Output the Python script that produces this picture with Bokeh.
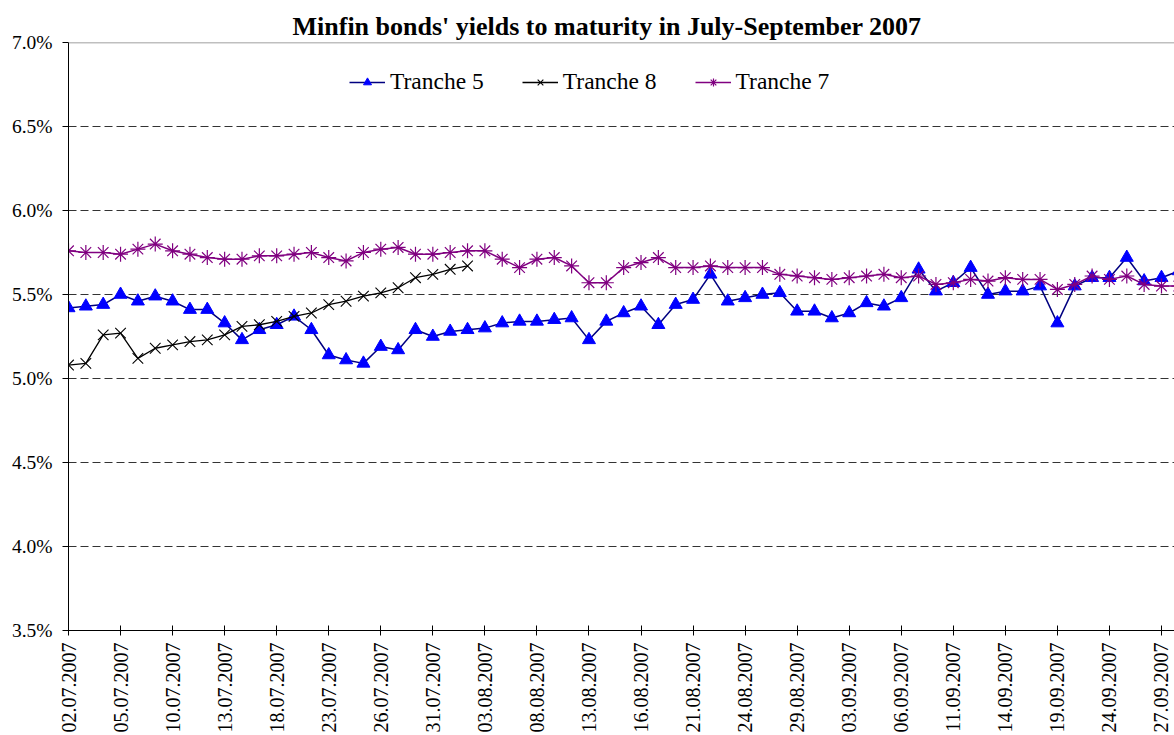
import math
from bokeh.plotting import figure
from bokeh.models import (Range1d, FixedTicker, PrintfTickFormatter, Legend,
                          LegendItem, Span)
from bokeh.embed import file_html
from bokeh.resources import INLINE

# ---- data -------------------------------------------------------------
dates = [
    "02.07.2007", "03.07.2007", "04.07.2007", "05.07.2007", "06.07.2007",
    "09.07.2007", "10.07.2007", "11.07.2007", "12.07.2007", "13.07.2007",
    "16.07.2007", "17.07.2007", "18.07.2007", "19.07.2007", "20.07.2007",
    "23.07.2007", "24.07.2007", "25.07.2007", "26.07.2007", "27.07.2007",
    "30.07.2007", "31.07.2007", "01.08.2007", "02.08.2007", "03.08.2007",
    "06.08.2007", "07.08.2007", "08.08.2007", "09.08.2007", "10.08.2007",
    "13.08.2007", "14.08.2007", "15.08.2007", "16.08.2007", "17.08.2007",
    "20.08.2007", "21.08.2007", "22.08.2007", "23.08.2007", "24.08.2007",
    "27.08.2007", "28.08.2007", "29.08.2007", "30.08.2007", "31.08.2007",
    "03.09.2007", "04.09.2007", "05.09.2007", "06.09.2007", "07.09.2007",
    "10.09.2007", "11.09.2007", "12.09.2007", "13.09.2007", "14.09.2007",
    "17.09.2007", "18.09.2007", "19.09.2007", "20.09.2007", "21.09.2007",
    "24.09.2007", "25.09.2007", "26.09.2007", "27.09.2007", "28.09.2007",
]

tranche5 = [
    5.42, 5.43, 5.44, 5.50, 5.46, 5.49, 5.46, 5.41, 5.41, 5.33,
    5.23, 5.29, 5.32, 5.37, 5.29, 5.14, 5.11, 5.09, 5.19, 5.17,
    5.29, 5.25, 5.28, 5.29, 5.30, 5.33, 5.34, 5.34, 5.35, 5.36,
    5.23, 5.34, 5.39, 5.43, 5.32, 5.44, 5.47, 5.62, 5.46, 5.48,
    5.50, 5.51, 5.40, 5.40, 5.36, 5.39, 5.45, 5.43, 5.48, 5.65,
    5.52, 5.57, 5.66, 5.50, 5.52, 5.52, 5.55, 5.33, 5.55, 5.60,
    5.60, 5.72, 5.58, 5.60, 5.64,
]

tranche8 = [
    5.08, 5.09, 5.26, 5.27, 5.12, 5.18, 5.20, 5.22, 5.23, 5.26,
    5.31, 5.32, 5.34, 5.37, 5.39, 5.44, 5.46, 5.49, 5.51, 5.54,
    5.60, 5.62, 5.65, 5.67,
]

tranche7 = [
    5.76, 5.75, 5.75, 5.74, 5.77, 5.80, 5.76, 5.74, 5.72, 5.71,
    5.71, 5.73, 5.73, 5.74, 5.75, 5.72, 5.70, 5.75, 5.77, 5.78,
    5.74, 5.74, 5.75, 5.76, 5.76, 5.71, 5.66, 5.71, 5.72, 5.67,
    5.57, 5.57, 5.66, 5.69, 5.72, 5.66, 5.66, 5.67, 5.66, 5.66,
    5.66, 5.62, 5.61, 5.60, 5.59, 5.60, 5.61, 5.62, 5.60, 5.61,
    5.56, 5.57, 5.59, 5.58, 5.60, 5.59, 5.59, 5.53, 5.56, 5.61,
    5.59, 5.61, 5.56, 5.55, 5.55,
]

y_ticks = [3.5, 4.0, 4.5, 5.0, 5.5, 6.0, 6.5, 7.0]
x_label_step = 3

# ---- figure -----------------------------------------------------------
FONT = "Liberation Serif"

x5 = list(range(len(tranche5)))
x8 = list(range(len(tranche8)))
x7 = list(range(len(tranche7)))

p = figure(width=1174, height=735, output_backend="svg", toolbar_location=None,
           x_range=Range1d(0, 63.75), y_range=Range1d(y_ticks[0], y_ticks[-1]),
           min_border_left=68, min_border_right=0, min_border_top=42,
           min_border_bottom=105, background_fill_color="white",
           border_fill_color="white", outline_line_color=None)

p.title.text = "Minfin bonds' yields to maturity in July-September 2007"
p.title.align = "left"
p.title.offset = 224
p.title.text_font = FONT
p.title.text_font_style = "bold"
p.title.text_font_size = "26px"
p.title.text_color = "black"
p.title.standoff = 4

# axes
xticks = list(range(0, len(dates), x_label_step))
p.xaxis.ticker = FixedTicker(ticks=xticks)
p.xaxis.major_label_overrides = {i: dates[i] for i in xticks}
p.xaxis.major_label_orientation = math.pi / 2
p.xaxis.minor_tick_line_color = None
p.xaxis.major_tick_in = 5
p.xaxis.major_tick_out = 5
p.xaxis.major_label_standoff = 7
p.xaxis.major_label_text_font_size = "20px"

p.yaxis.ticker = FixedTicker(ticks=y_ticks)
p.yaxis.formatter = PrintfTickFormatter(format="%.1f%%")
p.yaxis.minor_tick_line_color = None
p.yaxis.major_tick_in = 0
p.yaxis.major_tick_out = 6
p.yaxis.major_label_standoff = 10
p.yaxis.major_label_text_font_size = "19.5px"

for ax in (p.xaxis, p.yaxis):
    ax.axis_line_color = "black"
    ax.major_tick_line_color = "black"
    ax.major_label_text_font = FONT
    ax.major_label_text_color = "black"

p.xgrid.visible = False
p.ygrid.ticker = FixedTicker(ticks=y_ticks[:-1])
p.ygrid.grid_line_color = "#333333"
p.ygrid.grid_line_dash = "8 4"
p.ygrid.grid_line_width = 1

# solid border line on top of the plot area
p.add_layout(Span(location=y_ticks[-1], dimension="width",
                  line_color="#808080", line_width=1.5))

# series
l5 = p.line(x5, tranche5, line_color="#000080", line_width=1.5)
s5 = p.scatter(x5, tranche5, marker="triangle", size=13,
               fill_color="#0000FF", line_color="#0000FF")
l8 = p.line(x8, tranche8, line_color="black", line_width=1.3)
s8 = p.scatter(x8, tranche8, marker="x", size=15, line_color="black",
               line_width=1.1)
l7 = p.line(x7, tranche7, line_color="#800080", line_width=1.5)
s7 = p.scatter(x7, tranche7, marker="asterisk", size=15,
               line_color="#800080", line_width=1.2)

legend = Legend(items=[
    LegendItem(label="Tranche 5", renderers=[l5, s5]),
    LegendItem(label="Tranche 8", renderers=[l8, s8]),
    LegendItem(label="Tranche 7", renderers=[l7, s7]),
], orientation="horizontal", location=(281, 535))
legend.label_text_font = FONT
legend.label_text_font_size = "23.5px"
legend.label_text_color = "black"
legend.glyph_width = 36
legend.label_standoff = 5
legend.spacing = 38
legend.padding = 0
legend.margin = 0
legend.border_line_alpha = 0
legend.background_fill_alpha = 0
p.add_layout(legend)

open("out.html", "w").write(file_html(p, INLINE))
